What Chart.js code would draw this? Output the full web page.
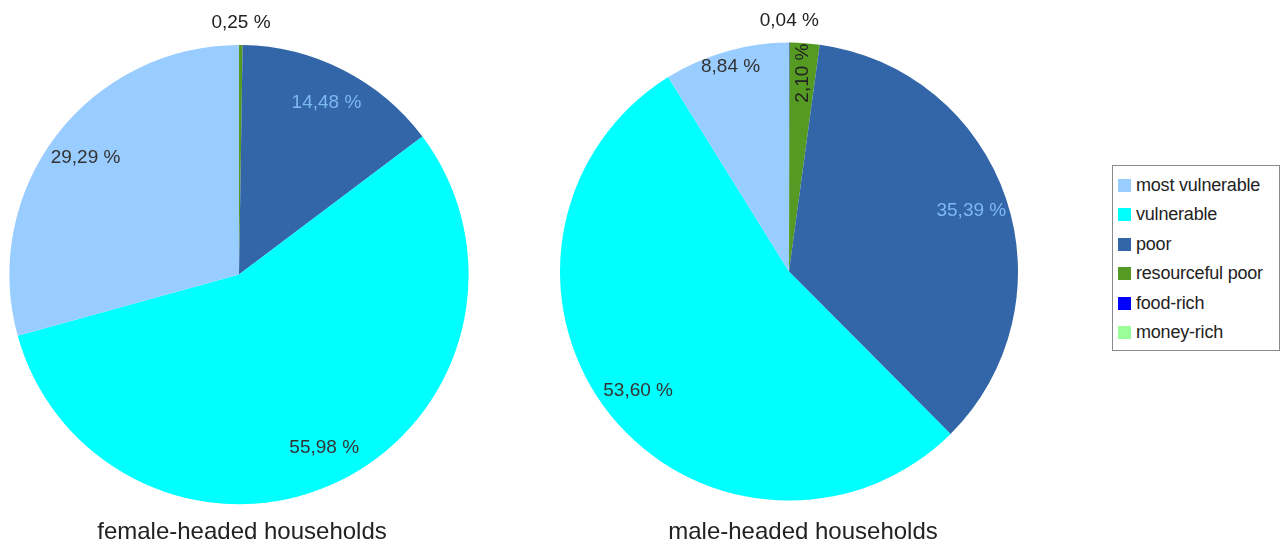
<!DOCTYPE html>
<html>
<head>
<meta charset="utf-8">
<script src="https://cdn.jsdelivr.net/npm/chart.js@4/dist/chart.umd.min.js"></script>
<style>
  body { margin: 0; background: #fff; width: 1283px; height: 547px; position: relative; overflow: hidden; font-family: "Liberation Sans", Arial, sans-serif; }
  .box { position: absolute; top: 0; height: 547px; }
  #legend { position: absolute; left: 1112px; top: 165px; width: 168px; height: 186px; border: 1px solid #8a8a8a; box-sizing: border-box; padding-top: 5px; }
  #legend div { height: 29.4px; line-height: 29.4px; font-size: 18px; color: #222; white-space: nowrap; letter-spacing: -0.2px; }
  #legend span { display: inline-block; width: 13px; height: 13px; margin: 0 5px 0 5px; vertical-align: -1px; }
</style>
</head>
<body>
<div class="box" style="left:9px;width:466px"><canvas id="a"></canvas></div>
<div class="box" style="left:560px;width:486px"><canvas id="b"></canvas></div>
<div id="legend"></div>
<script>
const categories = ["most vulnerable", "vulnerable", "poor", "resourceful poor", "food-rich", "money-rich"];
const femaleShares = [29.29, 55.98, 14.48, 0.25, 0, 0];
const maleShares = [8.84, 53.60, 35.39, 2.10, 0.04, 0];
const titles = ["female-headed households", "male-headed households"];

const colors = ["#99ccff", "#00ffff", "#3366a8", "#559a22", "#0000ff", "#99ff99"];
const labelColors = ["#333333", "#333333", "#7db8f0", "#222222", "#333333", "#333333"];

// the original pies run counter-clockwise from 12 o'clock, chart.js runs clockwise,
// so the slices are handed over in reverse order
const rev = a => a.slice().reverse();

const sliceLabels = {
  id: "sliceLabels",
  afterLayout(chart, args, opts) {
    // nudge the bottom title sideways, it is not centred under the pie in the original
    const t = chart.titleBlock;
    if (t && opts.titleShift) { t.left += opts.titleShift; t.right += opts.titleShift; }
  },
  afterDatasetsDraw(chart) {
    const ctx = chart.ctx;
    const meta = chart.getDatasetMeta(0);
    const values = chart.data.datasets[0].data;
    const n = values.length;
    ctx.save();
    ctx.font = "19px 'Liberation Sans', Arial, sans-serif";
    ctx.textAlign = "center";
    ctx.textBaseline = "middle";
    meta.data.forEach((arc, i) => {
      const v = values[i];
      if (!v) return;
      const cat = n - 1 - i;
      const p = arc.getProps(["x", "y", "startAngle", "endAngle", "outerRadius"], true);
      const mid = (p.startAngle + p.endAngle) / 2;
      const txt = v.toFixed(2).replace(".", ",") + " %";
      let d, rot = false, col = labelColors[cat];
      if (v < 1) { d = p.outerRadius + 22; col = "#222"; }
      else if (v < 5) { d = p.outerRadius - 30; rot = true; }
      else if (v < 10) d = p.outerRadius * 0.93;
      else d = p.outerRadius * 0.84;
      const x = p.x + Math.cos(mid) * d;
      const y = p.y + Math.sin(mid) * d;
      ctx.fillStyle = col;
      ctx.save();
      ctx.translate(x, y);
      if (rot) ctx.rotate(-Math.PI / 2);
      ctx.fillText(txt, 0, 0);
      ctx.restore();
    });
    ctx.restore();
  }
};

function makePie(id, shares, title, pad, titlePadTop, shift) {
  return new Chart(document.getElementById(id).getContext("2d"), {
    type: "pie",
    data: {
      labels: rev(categories),
      datasets: [{
        data: rev(shares),
        backgroundColor: rev(colors),
        borderWidth: 0,
      }],
    },
    options: {
      responsive: true,
      maintainAspectRatio: false,
      animation: false,
      events: [],
      rotation: 0,
      layout: { padding: pad },
      plugins: {
        legend: { display: false },
        tooltip: { enabled: false },
        sliceLabels: { titleShift: shift },
        title: {
          display: true,
          position: "bottom",
          text: title,
          color: "#222",
          font: { family: "'Liberation Sans', Arial, sans-serif", size: 24, weight: "normal" },
          padding: { top: titlePadTop, bottom: 0 },
        },
      },
    },
    plugins: [sliceLabels],
  });
}

makePie("a", femaleShares, titles[0], { top: 45, right: 6, left: 0, bottom: 0 }, 14, 3);
makePie("b", maleShares, titles[1], { top: 42, right: 28, left: 0, bottom: 0 }, 17, 14);

const legend = document.getElementById("legend");
categories.forEach((c, i) => {
  const row = document.createElement("div");
  const sw = document.createElement("span");
  sw.style.background = colors[i];
  row.appendChild(sw);
  row.appendChild(document.createTextNode(c));
  legend.appendChild(row);
});
</script>
</body>
</html>
